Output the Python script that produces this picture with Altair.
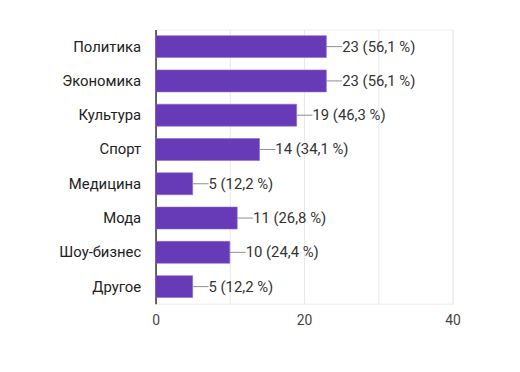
import altair as alt
import pandas as pd

categories = ["Политика", "Экономика", "Культура", "Спорт", "Медицина", "Мода", "Шоу-бизнес", "Другое"]
counts = [23, 23, 19, 14, 5, 11, 10, 5]
labels = ["23 (56,1 %)", "23 (56,1 %)", "19 (46,3 %)", "14 (34,1 %)", "5 (12,2 %)", "11 (26,8 %)", "10 (24,4 %)", "5 (12,2 %)"]
x_ticks = [0, 10, 20, 30, 40]

df = pd.DataFrame({"cat": categories, "count": counts, "label": labels})

FONT = "Roboto"

y_enc = alt.Y("cat:N", sort=categories, title=None,
              scale=alt.Scale(paddingInner=0.36, paddingOuter=0.18),
              axis=alt.Axis(labelFont=FONT, labelFontSize=15, labelColor="#222222",
                            labelPadding=15, ticks=False, domainColor="#333333",
                            domainWidth=1.5))
x_scale = alt.Scale(domain=[0, 40], nice=False)

bars = alt.Chart(df).mark_bar(color="#673ab7", stroke="#8a6bd1", strokeWidth=0.6).encode(
    x=alt.X("count:Q", scale=x_scale, title=None,
            axis=alt.Axis(values=x_ticks, labelExpr="datum.value % 20 == 0 ? datum.label : ''",
                          labelFont=FONT, labelFontSize=14, labelColor="#444444",
                          labelPadding=10, labelFlush=False, ticks=False, domain=False,
                          gridColor="#e8e8e8", gridWidth=1)),
    y=y_enc,
)

leader = alt.Chart(df).mark_rule(color="#8e8e8e", strokeWidth=1, x2Offset=16).encode(
    x=alt.X("count:Q", scale=x_scale),
    x2="count:Q",
    y=alt.Y("cat:N", sort=categories, bandPosition=0.5),
)

text = alt.Chart(df).mark_text(align="left", baseline="middle", dx=16, font=FONT,
                               fontSize=15, color="#333333").encode(
    x=alt.X("count:Q", scale=x_scale),
    y=alt.Y("cat:N", sort=categories),
    text="label:N",
)

chart = (bars + leader + text).properties(
    width=300, height=277,
    autosize=alt.AutoSizeParams(type="none"),
    padding={"left": 149, "top": 20, "right": 60, "bottom": 45},
).configure_view(stroke="#eeeeee")

chart.save("out.html", embed_options={"renderer": "svg", "actions": False})
